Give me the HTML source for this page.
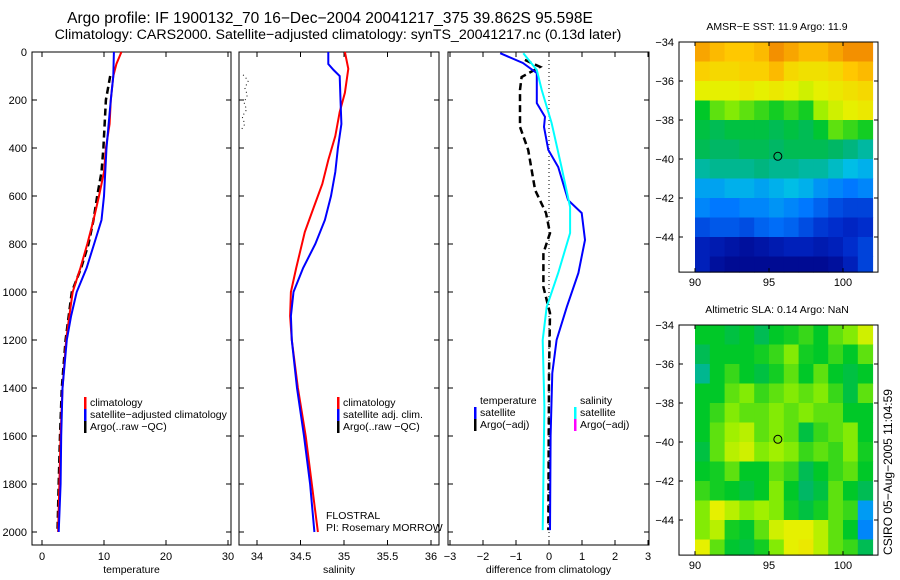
<!DOCTYPE html>
<html><head><meta charset="utf-8"><style>
body{margin:0;background:#fff;}
svg{display:block;font-family:"Liberation Sans",sans-serif;}
</style></head><body>
<svg id="fig" width="900" height="580" viewBox="0 0 900 580" xmlns="http://www.w3.org/2000/svg">
<text x="330" y="23" font-size="15.5" text-anchor="middle">Argo profile: IF 1900132_70 16−Dec−2004 20041217_375 39.862S 95.598E</text>
<text x="338" y="39" font-size="14.2" text-anchor="middle">Climatology: CARS2000. Satellite−adjusted climatology: synTS_20041217.nc (0.13d later)</text>
<text transform="translate(892,472) rotate(-90)" font-size="12" text-anchor="middle">CSIRO 05−Aug−2005 11:04:59</text>
<g id="g"></g>
</svg>
<script>
// ---- data ----
const depthTicks=[0,200,400,600,800,1000,1200,1400,1600,1800,2000];
const tempTicks=[0,10,20,30];
const salTicks=[34,34.5,35,35.5,36];
const diffTicks=[-3,-2,-1,0,1,2,3];
const tClimDepth=[0,50,100,200,300,400,500,600,700,800,900,1000,1100,1200,1400,1600,1800,2000];
const tClim=[12.8,12.0,11.5,11.1,10.9,10.3,10.0,9.2,8.3,7.3,6.2,4.95,4.4,3.9,3.3,3.0,2.8,2.6];
const tSatDepth=[0,100,200,400,600,700,800,900,1000,1100,1200,1400,1600,1800,2000];
const tSat=[11.6,11.5,11.1,10.4,10.0,9.6,8.4,7.2,5.6,4.7,4.0,3.3,3.1,3.0,2.7];
const tArgoDepth=[100,200,400,500,600,700,800,900,1000,1200,1400,1600,1800,2000];
const tArgo=[11.0,10.3,9.9,9.6,8.9,8.3,7.5,6.3,4.8,3.8,3.2,2.9,2.7,2.5];
const sClimDepth=[0,70,170,250,350,450,550,650,750,900,1000,1100,1200,1400,1600,1800,2000];
const sClim=[35.01,35.05,35.01,34.95,34.9,34.82,34.75,34.65,34.55,34.45,34.39,34.38,34.4,34.47,34.56,34.63,34.70];
const sSatDepth=[0,50,75,100,200,300,400,500,600,700,800,900,1000,1100,1200,1400,1600,1800,2000];
const sSat=[34.82,34.82,34.88,34.95,34.96,34.97,34.93,34.9,34.85,34.78,34.67,34.53,34.42,34.39,34.4,34.46,34.54,34.61,34.66];
const sArgoDepth=[95,120,150,180,210,240,270,300,330];
const sArgo=[33.84,33.9,33.86,33.89,33.85,33.88,33.83,33.86,33.81];
const dTempDepth=[5,46,88,213,270,312,408,479,617,671,783,921,1062,1200,1338,1600,1992];
const dTempSat=[-1.48,-0.79,-0.37,-0.37,-0.12,-0.15,-0.02,0.28,0.58,0.99,1.09,0.89,0.54,0.23,0.1,0.05,0.03];
const dSalDepth=[5,75,158,296,479,646,754,921,1062,1200,1479,1992];
const dSalSat=[-0.78,-0.37,-0.22,0.08,0.38,0.64,0.64,0.28,-0.07,-0.19,-0.14,-0.19];
const dArgoDepth=[33,62,104,158,312,408,575,671,754,838,979,1088,1338,1992];
const dTempArgo=[-0.73,-0.27,-0.83,-0.88,-0.88,-0.63,-0.42,-0.09,0.03,-0.17,-0.17,0.03,0,-0.02];
const mapLatTicks=[-34,-36,-38,-40,-42,-44];
const mapLonTicks=[90,95,100];
const sstGrid=[
[.85,.82,.8,.8,.82,.88,.85,.82,.82,.85,.88,.88],
[.78,.76,.76,.78,.78,.82,.76,.74,.74,.76,.8,.82],
[.7,.7,.7,.72,.7,.72,.7,.68,.7,.72,.74,.76],
[.55,.6,.62,.6,.58,.56,.58,.56,.64,.68,.7,.72],
[.52,.5,.52,.52,.52,.5,.52,.5,.54,.6,.58,.56],
[.5,.48,.48,.5,.5,.48,.5,.5,.5,.48,.46,.44],
[.44,.45,.45,.45,.46,.45,.45,.44,.44,.42,.4,.38],
[.36,.36,.38,.38,.36,.38,.4,.38,.34,.32,.3,.32],
[.32,.3,.3,.32,.32,.34,.32,.3,.26,.22,.2,.2],
[.22,.24,.24,.22,.26,.28,.26,.22,.18,.16,.14,.16],
[.12,.1,.08,.06,.08,.1,.12,.12,.1,.12,.16,.2],
[.12,.06,.04,.04,.04,.04,.04,.04,.04,.06,.12,.2]];
const slaGrid=[
[.55,.55,.52,.55,.5,.55,.56,.58,.55,.6,.62,.68],
[.5,.55,.55,.55,.56,.58,.62,.56,.55,.58,.55,.6],
[.45,.55,.58,.55,.52,.56,.6,.55,.6,.55,.52,.55],
[.55,.55,.6,.62,.58,.6,.62,.6,.62,.58,.52,.6],
[.55,.58,.62,.6,.6,.62,.6,.62,.6,.6,.55,.55],
[.55,.6,.64,.66,.6,.62,.6,.52,.58,.6,.62,.55],
[.52,.6,.66,.68,.62,.64,.62,.58,.6,.58,.62,.56],
[.55,.56,.6,.55,.55,.6,.58,.5,.55,.58,.6,.55],
[.58,.56,.55,.52,.55,.62,.55,.48,.52,.6,.55,.5],
[.62,.7,.66,.62,.64,.62,.56,.52,.56,.6,.58,.35],
[.62,.66,.56,.54,.6,.68,.7,.7,.66,.6,.55,.32],
[.7,.6,.54,.52,.56,.62,.7,.72,.66,.6,.58,.5]];
const argoLon=95.598, argoLat=-39.862;

// ---- drawing ----
const NS="http://www.w3.org/2000/svg";
const G=document.getElementById('g');
function mk(tag,attrs,parent){const e=document.createElementNS(NS,tag);for(const k in attrs)e.setAttribute(k,attrs[k]);(parent||G).appendChild(e);return e;}
const yD=d=>52+d*0.24;
function panel(name,x0,x1,xs,ticks,fmt,label){
  const r=mk('rect',{x:x0,y:52,width:x1-x0,height:493,fill:'none',stroke:'#000','stroke-width':1});
  
  
  ticks.forEach(t=>{const x=xs(t);
    mk('line',{x1:x,x2:x,y1:545,y2:540,stroke:'#000'});mk('line',{x1:x,x2:x,y1:52,y2:57,stroke:'#000'});
    const tx=mk('text',{x:x,y:560,'font-size':11,'text-anchor':'middle'});tx.textContent=fmt(t);
    
    });
  depthTicks.forEach(d=>{const y=yD(d);
    mk('line',{x1:x0,x2:x0+5,y1:y,y2:y,stroke:'#000'});mk('line',{x1:x1,x2:x1-5,y1:y,y2:y,stroke:'#000'});});
  const lt=mk('text',{x:(x0+x1)/2,y:573,'font-size':10.5,'text-anchor':'middle'});lt.textContent=label;
  
  
}
function line(xs,ds,vs,color,w,dash,name){
  const p=ds.map((d,i)=>xs(vs[i]).toFixed(1)+','+yD(d).toFixed(1)).join(' ');
  const e=mk('polyline',{points:p,fill:'none',stroke:color,'stroke-width':w});
  if(dash)e.setAttribute('stroke-dasharray',dash);
  
  
}
function legend(x,y,items){items.forEach((it,i)=>{const yy=y+i*12;
  if(it[0])mk('rect',{x:x,y:yy-9,width:2.5,height:12,fill:it[0]});
  const t=mk('text',{x:x+6,y:yy,'font-size':10.5});t.textContent=it[1];
  
  });}

depthTicks.forEach(d=>{const t=mk('text',{x:27,y:yD(d)+4,'font-size':11,'text-anchor':'end'});t.textContent=d;
  
  });

const xT=v=>42+v*6.2;
panel('temperature-panel',32,231,xT,tempTicks,t=>t,'temperature');
line(xT,tArgoDepth,tArgo,'#000',2.5,'7,4','temp-argo-line');
line(xT,tClimDepth,tClim,'#f00',2,'','temp-climatology-line');
line(xT,tSatDepth,tSat,'#00f',2,'','temp-satellite-line');
legend(84,406,[['#f00','climatology'],['#00f','satellite−adjusted climatology'],['#000','Argo(..raw −QC)']]);

const xS=v=>257+(v-34)*87;
panel('salinity-panel',239,439,xS,salTicks,t=>t,'salinity');
line(xS,sArgoDepth,sArgo,'#000',1,'1,3','sal-argo-line');
line(xS,sClimDepth,sClim,'#f00',2,'','sal-climatology-line');
line(xS,sSatDepth,sSat,'#00f',2,'','sal-satellite-line');
legend(337,406,[['#f00','climatology'],['#00f','satellite adj. clim.'],['#000','Argo(..raw −QC)']]);
const fl=mk('text',{x:326,y:519,'font-size':10.5});fl.textContent='FLOSTRAL';

const pi=mk('text',{x:326,y:531,'font-size':10.5});pi.textContent='PI: Rosemary MORROW';


const xDf=v=>549+v*33;
panel('difference-panel',448,649,xDf,diffTicks,t=>t<0?'−'+(-t):t,'difference from climatology');
mk('line',{x1:xDf(0),x2:xDf(0),y1:52,y2:545,stroke:'#000','stroke-width':1,'stroke-dasharray':'1,3'});
line(xDf,dArgoDepth,dTempArgo,'#000',2.5,'7,4','diff-temp-argo-line');
line(xDf,dTempDepth,dTempSat,'#00f',2,'','diff-temp-satellite-line');
line(xDf,dSalDepth,dSalSat,'#0ff',2,'','diff-sal-satellite-line');
legend(474,404,[[null,'temperature'],['#00f','satellite'],['#000','Argo(−adj)']]);
legend(574,404,[[null,'salinity'],['#0ff','satellite'],['#f0f','Argo(−adj)']]);

function cmap(v){const stops=[[0,[0,0,128]],[0.15,[0,40,200]],[0.3,[0,120,255]],[0.4,[0,190,230]],[0.47,[0,180,110]],[0.55,[0,200,40]],[0.63,[150,240,0]],[0.7,[230,240,0]],[0.8,[255,200,0]],[0.9,[240,130,0]],[1,[200,60,0]]];
  for(let i=1;i<stops.length;i++){if(v<=stops[i][0]){const a=stops[i-1],b=stops[i],f=(v-a[0])/(b[0]-a[0]);
    return 'rgb('+a[1].map((c,k)=>Math.round(c+(b[1][k]-c)*f)).join(',')+')';}}return 'rgb(200,60,0)';}
function map(name,top,grid,title){
  const lat0=top,lon=v=>695+(v-90)*14.8,lat=v=>lat0+(-34-v)*19.5,bottom=lat(-45.8),right=lon(102.2);
  const t=mk('text',{x:777,y:top-12,'font-size':10.5,'text-anchor':'middle'});t.textContent=title;
  
  grid.forEach((row,r)=>row.forEach((v,c)=>{
    const y1=lat(-34-r),y2=Math.min(lat(-35-r),bottom),x1=lon(90+c),x2=Math.min(lon(91+c),right);
    const cell=mk('rect',{x:x1,y:y1,width:x2-x1+0.5,height:y2-y1+0.5,fill:cmap(v)});
    
    }));
  const fr=mk('rect',{x:679,y:top,width:199,height:bottom-top,fill:'none',stroke:'#000'});
  
  mapLatTicks.forEach(v=>{const y=lat(v);mk('line',{x1:679,x2:683,y1:y,y2:y,stroke:'#000'});mk('line',{x1:878,x2:874,y1:y,y2:y,stroke:'#000'});
    const l=mk('text',{x:674,y:y+4,'font-size':11,'text-anchor':'end'});l.textContent=v<0?'−'+(-v):v;
    });
  mapLonTicks.forEach(v=>{const x=lon(v);mk('line',{x1:x,x2:x,y1:top,y2:top+4,stroke:'#000'});mk('line',{x1:x,x2:x,y1:bottom,y2:bottom-4,stroke:'#000'});
    const l=mk('text',{x:x,y:bottom+14,'font-size':11,'text-anchor':'middle'});l.textContent=v;
    });
  const c=mk('circle',{cx:lon(argoLon),cy:lat(argoLat),r:4,fill:'none',stroke:'#000','stroke-width':1});
  
}
map('sst-map',42,sstGrid,'AMSR−E SST: 11.9 Argo: 11.9');
map('sla-map',325,slaGrid,'Altimetric SLA: 0.14 Argo: NaN');
</script>
</body></html>
